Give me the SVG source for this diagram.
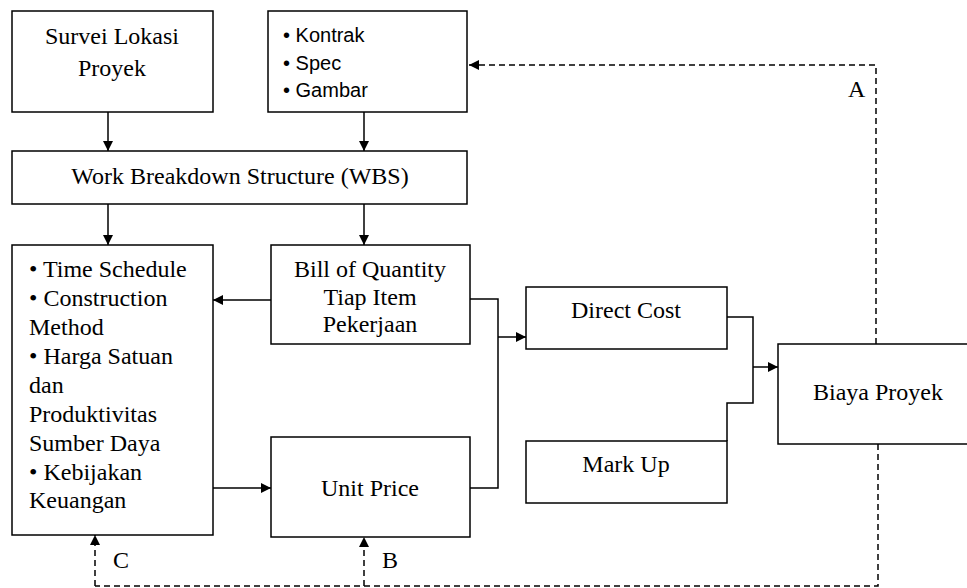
<svg xmlns="http://www.w3.org/2000/svg" width="967" height="588" viewBox="0 0 967 588">
<defs>
<marker id="ah" viewBox="0 0 10 10" refX="10" refY="5" markerWidth="10" markerHeight="10" markerUnits="userSpaceOnUse" orient="auto">
<path d="M0,0 L10,5 L0,10 z" fill="#000"/>
</marker>
</defs>
<style>
.box{fill:none;stroke:#000;stroke-width:1.5}
.t{font-family:"Liberation Serif","Times New Roman",serif;font-size:24px;fill:#000}
.s{font-family:"Liberation Sans",Arial,sans-serif;font-size:20px;fill:#000}
.c{text-anchor:middle}
.ln{fill:none;stroke:#000;stroke-width:1.5}
.ar{fill:none;stroke:#000;stroke-width:1.5;marker-end:url(#ah)}
.d{fill:none;stroke:#000;stroke-width:1.5;stroke-dasharray:6 4}
.da{fill:none;stroke:#000;stroke-width:1.5;stroke-dasharray:6 4;marker-end:url(#ah)}
</style>
<rect width="967" height="588" fill="#fff"/>
<g id="connectors">
<path class="ar" d="M108,112 V151"/>
<path class="ar" d="M364,112 V151"/>
<path class="ar" d="M108,204 V245"/>
<path class="ar" d="M364,204 V245"/>
<path class="ar" d="M271,300 H213"/>
<path class="ar" d="M213,488 H271"/>
<path class="ln" d="M470,299 H498 V488 H470"/>
<path class="ar" d="M498,337 H526"/>
<path class="ln" d="M727,317 H753 V403 H727 V441"/>
<path class="ar" d="M753,367 H778"/>
<path class="da" d="M876,344 V65 H469"/>
<path class="d" d="M878,444 V586 H95"/>
<path class="da" d="M95,586 V535"/>
<path class="da" d="M364,586 V537"/>
<text class="t" x="848" y="97">A</text>
<text class="t" x="382" y="568">B</text>
<text class="t" x="113" y="568">C</text>
</g>
<g id="survei">
<rect class="box" x="12" y="11" width="201" height="101"/>
<text class="t c" x="112" y="44">Survei Lokasi</text>
<text class="t c" x="112" y="76">Proyek</text>
</g>
<g id="dokumen">
<rect class="box" x="268" y="11" width="199" height="101"/>
<text class="s" x="283" y="42">• Kontrak</text>
<text class="s" x="283" y="70">• Spec</text>
<text class="s" x="283" y="97">• Gambar</text>
</g>
<g id="wbs">
<rect class="box" x="12" y="151" width="455" height="53"/>
<text class="t c" x="240" y="184">Work Breakdown Structure (WBS)</text>
</g>
<g id="input">
<rect class="box" x="12" y="245" width="201" height="290"/>
<text class="t" x="29" y="277">• Time Schedule</text>
<text class="t" x="29" y="306">• Construction</text>
<text class="t" x="29" y="335">Method</text>
<text class="t" x="29" y="364">• Harga Satuan</text>
<text class="t" x="29" y="393">dan</text>
<text class="t" x="29" y="422">Produktivitas</text>
<text class="t" x="29" y="451">Sumber Daya</text>
<text class="t" x="29" y="480">• Kebijakan</text>
<text class="t" x="29" y="508">Keuangan</text>
</g>
<g id="boq">
<rect class="box" x="271" y="245" width="199" height="99"/>
<text class="t c" x="370" y="277">Bill of Quantity</text>
<text class="t c" x="370" y="305">Tiap Item</text>
<text class="t c" x="370" y="332">Pekerjaan</text>
</g>
<g id="unitprice">
<rect class="box" x="271" y="437" width="199" height="100"/>
<text class="t c" x="370" y="496">Unit Price</text>
</g>
<g id="directcost">
<rect class="box" x="526" y="287" width="201" height="62"/>
<text class="t c" x="626" y="318">Direct Cost</text>
</g>
<g id="markup">
<rect class="box" x="526" y="441" width="201" height="62"/>
<text class="t c" x="626" y="472">Mark Up</text>
</g>
<g id="biaya">
<rect class="box" x="778" y="344" width="200" height="100"/>
<text class="t c" x="878" y="400">Biaya Proyek</text>
</g>
</svg>
